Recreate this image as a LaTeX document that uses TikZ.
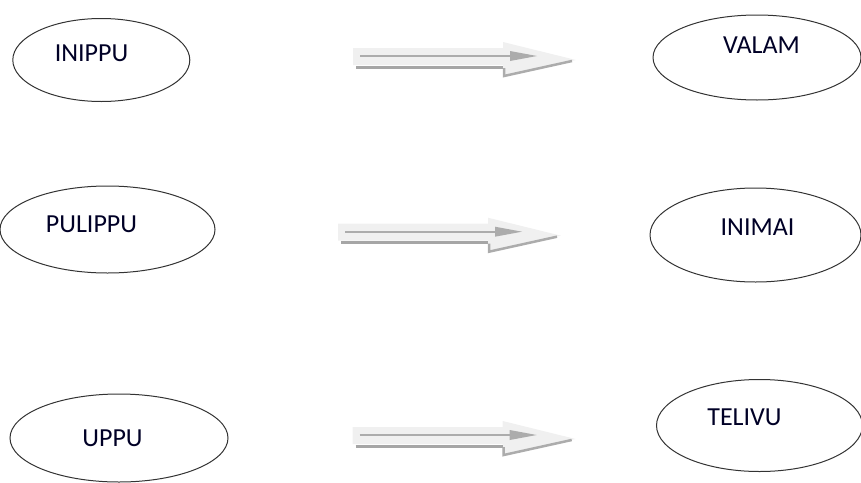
\documentclass[tikz,border=0pt]{standalone}
\usepackage{fontspec}
\setmainfont{Carlito}
\usetikzlibrary{shapes.geometric}
\tikzset{
  x=1pt, y=1pt,
  oval/.style={ellipse, draw=black!80, line width=1pt, inner sep=0pt},
  lbl/.style={anchor=base, inner sep=0pt, font=\fontsize{26}{30}\selectfont, text=black!85!blue},
  wordarrow/.pic={
    % light body with head
    \fill[gray!12] (0,8) -- (150,8) -- (150,14) -- (223,-4) -- (150,-19) -- (150,-9) -- (0,-9) -- cycle;
    % shadow of lower edge
    \draw[gray!70, line width=3pt] (3,-11) -- (150,-11);
    \draw[gray!65, line width=2.5pt] (151,-12) -- (151,-20) -- (219,-5);
    % inner thin line and small head
    \draw[gray!65, line width=1.6pt] (7,0) -- (158,0);
    \fill[gray!65] (157,5) -- (184,0) -- (157,-5) -- cycle;
  }
}
\begin{document}
\begin{tikzpicture}
\useasboundingbox (0,0) rectangle (861,-482);
% ellipses
\node[oval, minimum width=177pt, minimum height=83pt] (e1) at (101.3,-60) {};
\node[oval, minimum width=208pt, minimum height=85pt] (e2) at (757,-57.5) {};
\node[oval, minimum width=215pt, minimum height=87pt] (e3) at (107.5,-229.5) {};
\node[oval, minimum width=211pt, minimum height=94pt] (e4) at (755.5,-235) {};
\node[oval, minimum width=218pt, minimum height=88pt] (e5) at (119,-438) {};
\node[oval, minimum width=206pt, minimum height=92pt] (e6) at (759.5,-425.5) {};
% labels
\node[lbl] (t1) at (91.5,-61.7) {INIPPU};
\node[lbl] (t2) at (761.5,-53.3) {VALAM};
\node[lbl] (t3) at (91.5,-232.3) {PULIPPU};
\node[lbl] (t4) at (757.5,-235) {INIMAI};
\node[lbl] (t5) at (112.5,-446.7) {UPPU};
\node[lbl] (t6) at (744.5,-425) {TELIVU};
% arrows
\coordinate (a1) at (353,-56);
\coordinate (a2) at (338,-231.7);
\coordinate (a3) at (352.7,-435);
\pic at (a1) {wordarrow};
\pic at (a2) {wordarrow};
\pic at (a3) {wordarrow};
\end{tikzpicture}
\end{document}
